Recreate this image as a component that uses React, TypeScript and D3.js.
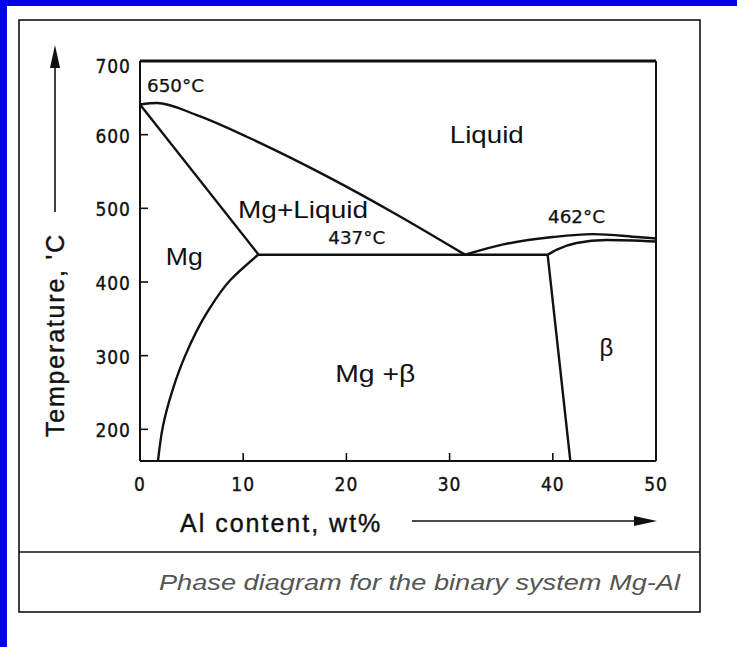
import React from "react";
import * as d3 from "d3";

// ---- data (Al wt%, temperature °C) ----
const liquidusAl = [0, 1.65, 5.43, 11.82, 18.31, 24.81, 31.5];
const liquidusT = [641, 643, 627, 587.5, 542, 492, 437];
const solidusAl = [0, 11.5];
const solidusT = [641, 437];
const solvusAl = [11.45, 8.78, 6.52, 4.35, 3.17, 2.22, 1.74];
const solvusT = [437, 403, 359, 299, 254, 204, 157];
const eutecticAl = [11.45, 39.5];
const eutecticT = [437, 437];
const betaLeftAl = [39.5, 41.7];
const betaLeftT = [437, 157];
const betaLiquidusAl = [31.5, 35.2, 40, 43.9, 48.2, 50];
const betaLiquidusT = [437, 451, 461, 465, 461, 459];
const betaSolidusAl = [39.5, 40.4, 42.3, 45.2, 50];
const betaSolidusT = [437, 444, 453, 457, 455];

const xTicks = [0, 10, 20, 30, 40, 50];
const yTicks = [200, 300, 400, 500, 600, 700];

const regionLabels = ["Liquid", "Mg+Liquid", "Mg", "Mg +β", "β"];
const regionAl = [33.6, 15.8, 4.3, 22.8, 45.2];
const regionT = [600, 498, 434, 276, 311];

const tempLabels = ["650°C", "437°C", "462°C"];
const tempAl = [0.68, 21.0, 42.3];
const tempT = [667, 460, 489];

const xTitle = "Al content, wt%";
const yTitle = "Temperature, 'C";
const caption = "Phase diagram for the binary system Mg-Al";

// text widths (styling)
const regionWidths = [74, 130, 37, 80, 0];
const tempAnchor = ["start", "middle", "middle"];

const W = 737;
const H = 647;

export default function App() {
  const x = d3.scaleLinear().domain([0, 50]).range([140, 656]);
  const y = d3.scaleLinear().domain([157, 700]).range([461, 61]);

  const zip = (a: number[], b: number[]) => a.map((v, i) => [v, b[i]] as [number, number]);
  const lineX = d3
    .line<[number, number]>()
    .x((d) => x(d[0]))
    .y((d) => y(d[1]))
    .curve(d3.curveMonotoneX);
  const lineY = d3
    .line<[number, number]>()
    .x((d) => x(d[0]))
    .y((d) => y(d[1]))
    .curve(d3.curveMonotoneY);
  const straight = d3
    .line<[number, number]>()
    .x((d) => x(d[0]))
    .y((d) => y(d[1]));

  const condensed = "'DejaVu Sans Condensed', 'DejaVu Sans', sans-serif";
  const sans = "'Liberation Sans', Arial, sans-serif";

  return (
    <svg
      width={W}
      height={H}
      style={{ position: "absolute", left: 0, top: 0, background: "#fff" }}
    >
      {/* blue frame */}
      <rect x={0} y={0} width={W} height={6} fill="#0000ee" />
      <rect x={0} y={0} width={7} height={H} fill="#0000ee" />

      {/* panel box */}
      <rect x={19} y={20} width={681} height={592} fill="#fff" stroke="#111" strokeWidth={1.6} />
      <line x1={19} x2={700} y1={552} y2={552} stroke="#111" strokeWidth={1.6} />

      {/* plot frame */}
      <line x1={x(0)} x2={x(50)} y1={y(700)} y2={y(700)} stroke="#111" strokeWidth={3} />
      <line x1={x(50)} x2={x(50)} y1={y(700)} y2={y(157)} stroke="#111" strokeWidth={2} />
      <line x1={x(0)} x2={x(50)} y1={y(157)} y2={y(157)} stroke="#111" strokeWidth={2} />
      <line x1={x(0)} x2={x(0)} y1={y(700)} y2={y(157)} stroke="#111" strokeWidth={2} />

      {/* ticks */}
      {yTicks.map((t) => (
        <g key={"y" + t}>
          <line x1={x(0)} x2={x(0) + 8} y1={y(t)} y2={y(t)} stroke="#111" strokeWidth={1.6} />
          <text
            x={131}
            y={y(t) + (t === 700 ? 5 : 1)}
            textAnchor="end"
            dominantBaseline="central"
            fontFamily={condensed}
            fontSize={19}
            letterSpacing={1}
            stroke="#111"
            strokeWidth={0.35}
            fill="#111"
          >
            {t}
          </text>
        </g>
      ))}
      {xTicks.map((t) => (
        <g key={"x" + t}>
          {t > 0 && t < 50 && (
            <line x1={x(t)} x2={x(t)} y1={y(157)} y2={y(157) - 8} stroke="#111" strokeWidth={1.6} />
          )}
          <text
            x={x(t)}
            y={484}
            textAnchor="middle"
            dominantBaseline="central"
            fontFamily={condensed}
            fontSize={19}
            letterSpacing={1}
            stroke="#111"
            strokeWidth={0.35}
            fill="#111"
          >
            {t}
          </text>
        </g>
      ))}

      {/* phase boundaries */}
      <g fill="none" stroke="#111" strokeWidth={2.4} strokeLinejoin="round">
        <path d={lineX(zip(liquidusAl, liquidusT)) || ""} />
        <path d={straight(zip(solidusAl, solidusT)) || ""} />
        <path d={lineY(zip(solvusAl, solvusT)) || ""} />
        <path d={straight(zip(eutecticAl, eutecticT)) || ""} />
        <path d={straight(zip(betaLeftAl, betaLeftT)) || ""} />
        <path d={lineX(zip(betaLiquidusAl, betaLiquidusT)) || ""} />
        <path d={lineX(zip(betaSolidusAl, betaSolidusT)) || ""} />
      </g>

      {/* region labels */}
      {regionLabels.map((s, i) => (
        <text
          key={s}
          x={x(regionAl[i])}
          y={y(regionT[i])}
          textAnchor="middle"
          dominantBaseline="central"
          fontFamily={sans}
          fontSize={24}
          fill="#111"
          {...(regionWidths[i] > 0
            ? { textLength: regionWidths[i], lengthAdjust: "spacingAndGlyphs" }
            : {})}
        >
          {s}
        </text>
      ))}

      {/* temperature labels */}
      {tempLabels.map((s, i) => (
        <text
          key={s}
          x={x(tempAl[i])}
          y={y(tempT[i])}
          textAnchor={tempAnchor[i]}
          dominantBaseline="central"
          fontFamily={condensed}
          fontSize={18}
          stroke="#111"
          strokeWidth={0.25}
          fill="#111"
          textLength={57}
          lengthAdjust="spacingAndGlyphs"
        >
          {s}
        </text>
      ))}

      {/* y axis title + arrow */}
      <text
        transform="translate(64,335) rotate(-90)"
        textAnchor="middle"
        fontFamily={sans}
        fontSize={25}
        letterSpacing={1.8}
        stroke="#111"
        strokeWidth={0.4}
        fill="#111"
      >
        {yTitle}
      </text>
      <line x1={55} x2={55} y1={212} y2={60} stroke="#111" strokeWidth={1.6} />
      <path d="M55,45 L50,68 L60,68 Z" fill="#111" />

      {/* x axis title + arrow */}
      <text
        x={180}
        y={532}
        fontFamily={sans}
        fontSize={25}
        letterSpacing={2}
        stroke="#111"
        strokeWidth={0.4}
        fill="#111"
      >
        {xTitle}
      </text>
      <line x1={412} x2={640} y1={521} y2={521} stroke="#111" strokeWidth={1.6} />
      <path d="M657,521 L634,516 L634,526 Z" fill="#111" />

      {/* caption */}
      <text
        x={680}
        y={590}
        textAnchor="end"
        fontFamily={sans}
        fontStyle="italic"
        fontSize={22}
        fill="#555"
        textLength={521}
        lengthAdjust="spacingAndGlyphs"
      >
        {caption}
      </text>
    </svg>
  );
}
